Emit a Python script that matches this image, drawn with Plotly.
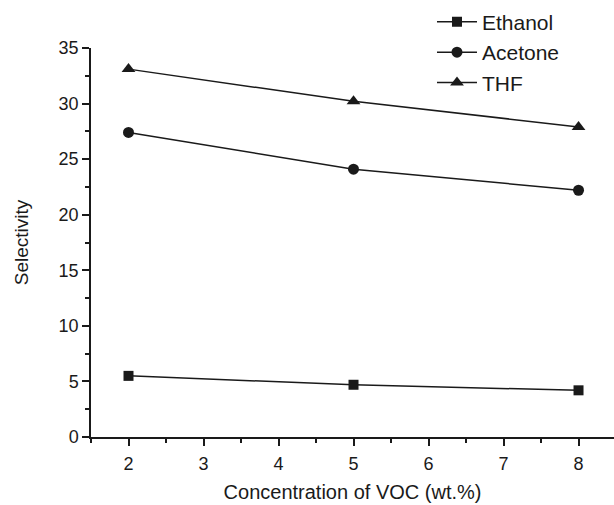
import plotly.graph_objects as go

concentration = [2, 5, 8]
ethanol = [5.5, 4.7, 4.2]
acetone = [27.4, 24.1, 22.2]
thf = [33.1, 30.2, 27.9]

series = [
    ("Ethanol", ethanol, "square", 10),
    ("Acetone", acetone, "circle", 11),
    ("THF", thf, "triangle-up", 12),
]

FONT = "Liberation Sans, Arial, sans-serif"
INK = "#1a1a1a"

fig = go.Figure()
for name, vals, sym, sz in series:
    fig.add_trace(go.Scatter(
        x=concentration, y=vals, name=name, mode="lines+markers",
        line=dict(color=INK, width=1.5),
        marker=dict(symbol=sym, size=sz, color=INK),
    ))

axis_common = dict(
    showline=True, linecolor=INK, linewidth=1.5,
    ticks="outside", ticklen=7, tickwidth=1.5, tickcolor=INK,
    showgrid=False, zeroline=False,
    tickfont=dict(family=FONT, size=18, color=INK),
)

fig.update_xaxes(
    range=[1.5, 8.473], dtick=1, tick0=0,
    minor=dict(dtick=0.5, ticks="outside", ticklen=4, tickwidth=1.5, tickcolor=INK),
    ticklabelstandoff=3,
    title=dict(text="Concentration of VOC (wt.%)", font=dict(family=FONT, size=20, color=INK), standoff=12),
    **axis_common,
)
fig.update_yaxes(
    range=[0, 35], dtick=5, tick0=0,
    minor=dict(dtick=2.5, ticks="outside", ticklen=4, tickwidth=1.5, tickcolor=INK),
    title=dict(text="Selectivity", font=dict(family=FONT, size=19, color=INK), standoff=25),
    **axis_common,
)

fig.update_layout(
    width=614, height=505,
    margin=dict(l=91, r=0, t=48, b=68),
    paper_bgcolor="white", plot_bgcolor="white",
    showlegend=True,
    legend=dict(
        x=0.652, y=1.119, xanchor="left", yanchor="top",
        font=dict(family=FONT, size=21, color=INK),
        bgcolor="rgba(0,0,0,0)", itemwidth=40, tracegroupgap=0,
    ),
)

fig.write_html("out.html")
